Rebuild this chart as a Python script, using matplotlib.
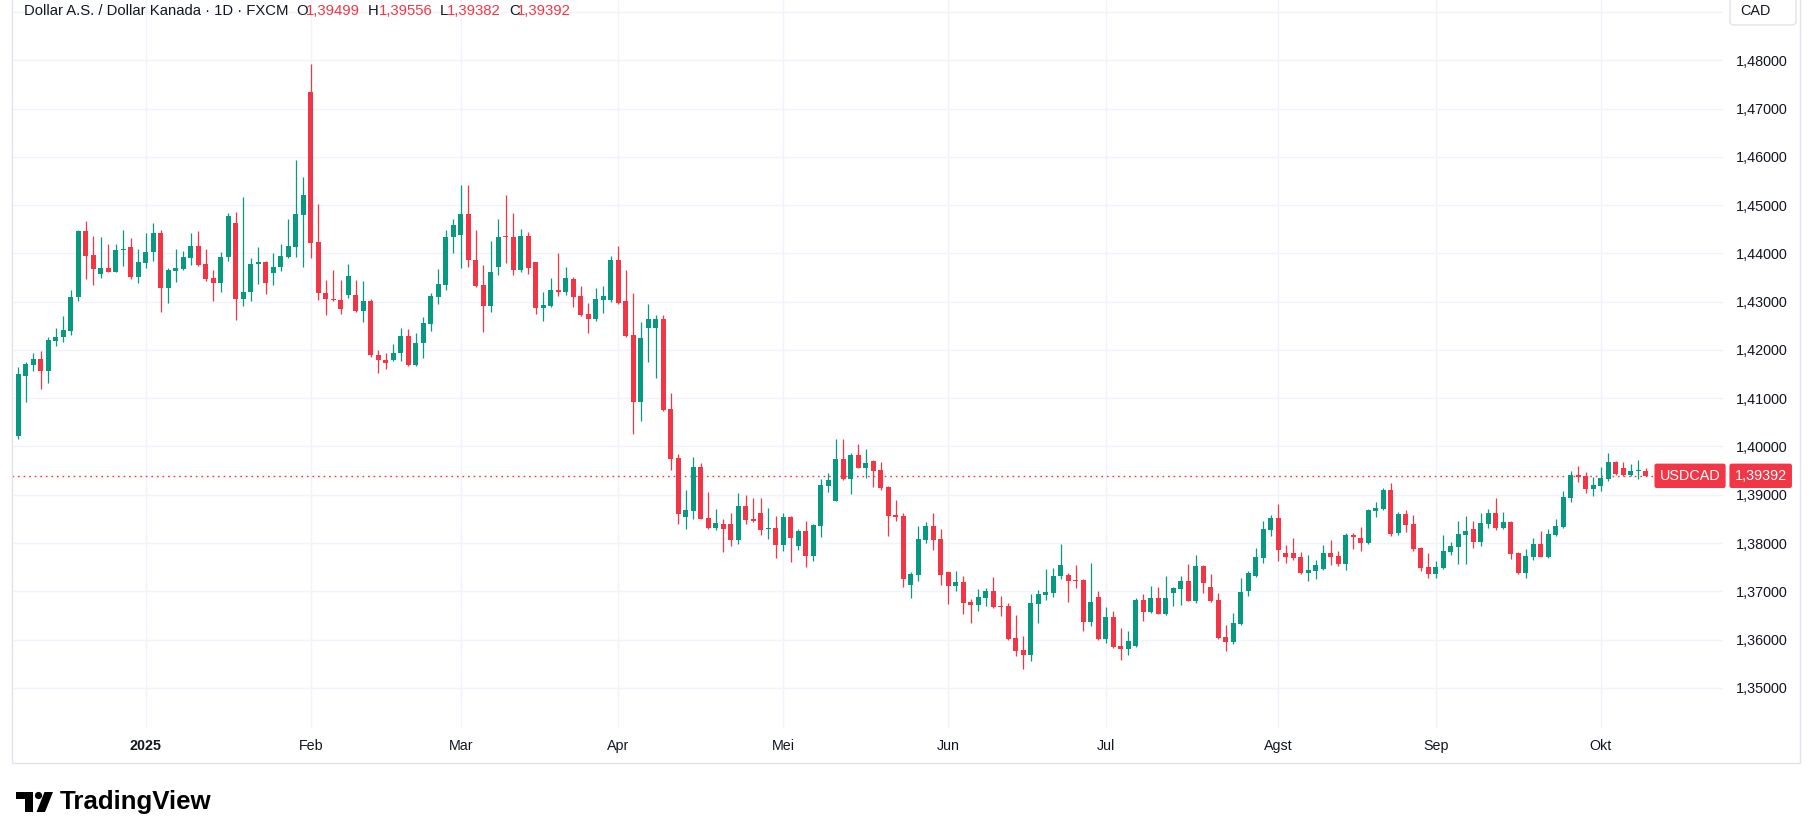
import matplotlib.pyplot as plt
import matplotlib.patches as mpatches
import matplotlib.transforms as mtransforms
import numpy as np
import pandas as pd

plt.rcParams['font.family'] = ['Liberation Sans', 'DejaVu Sans']

# daily bars, 6 Dec 2024 .. 9 Oct 2025 (no bars on 25 Dec and 1 Jan)
dates = pd.bdate_range('2024-12-06', '2025-10-09')
dates = dates[~dates.isin(pd.to_datetime(['2024-12-25', '2025-01-01']))]

opens = [
    1.40225, 1.41469, 1.41697, 1.41814, 1.41572, 1.42194, 1.42277, 1.42402, 1.43086, 1.44468,
    1.43970, 1.43583, 1.43701, 1.43618, 1.44060, 1.44136, 1.43521, 1.43811, 1.44019, 1.44426,
    1.43293, 1.43645, 1.43680, 1.43908, 1.44157, 1.43784, 1.43493, 1.43380, 1.43918, 1.44637,
    1.43048, 1.43193, 1.43773, 1.43829, 1.43587, 1.43711, 1.43932, 1.44139, 1.44802, 1.47351,
    1.44243, 1.43186, 1.43062, 1.43041, 1.43131, 1.43145, 1.42800, 1.43021, 1.41902, 1.41798,
    1.41785, 1.41930, 1.42296, 1.41681, 1.42137, 1.42547, 1.43106, 1.43355, 1.44330, 1.44371,
    1.44820, 1.43867, 1.43348, 1.42920, 1.43708, 1.44343, 1.44343, 1.43666, 1.44364, 1.43825,
    1.42878, 1.42913, 1.43245, 1.43203, 1.43473, 1.43120, 1.42747, 1.42643, 1.43037, 1.43037,
    1.43867, 1.43017, 1.42307, 1.40918, 1.42452, 1.42452, 1.42639, 1.40773, 1.39757, 1.38540,
    1.38665, 1.39570, 1.38513, 1.38305, 1.38388, 1.38388, 1.38064, 1.38762, 1.38492, 1.38616,
    1.38292, 1.38312, 1.37960, 1.38540, 1.37939, 1.38243, 1.37732, 1.38354, 1.39183, 1.38874,
    1.39737, 1.39323, 1.39820, 1.39551, 1.39696, 1.39509, 1.39157, 1.38570, 1.38556, 1.37125,
    1.37332, 1.38058, 1.38348, 1.38079, 1.37395, 1.37104, 1.37187, 1.36773, 1.36710, 1.36856,
    1.37001, 1.36690, 1.36690, 1.36026, 1.35777, 1.35674, 1.36731, 1.36918, 1.36959, 1.37312,
    1.37332, 1.37229, 1.37229, 1.36358, 1.36876, 1.36005, 1.36462, 1.35860, 1.35798, 1.35860,
    1.36814, 1.36565, 1.36856, 1.36524, 1.36959, 1.37042, 1.37208, 1.36793, 1.37519, 1.37084,
    1.36814, 1.36047, 1.35943, 1.36317, 1.37001, 1.37312, 1.37685, 1.38265, 1.38514, 1.37789,
    1.37789, 1.37706, 1.37374, 1.37415, 1.37457, 1.37789, 1.37726, 1.37560, 1.38162, 1.38100,
    1.37996, 1.38659, 1.38701, 1.39095, 1.38203, 1.38597, 1.38390, 1.37892, 1.37498, 1.37353,
    1.37478, 1.37823, 1.37913, 1.38162, 1.38286, 1.38017, 1.38390, 1.38618, 1.38307, 1.38431,
    1.37789, 1.37374, 1.37706, 1.37975, 1.37706, 1.38162, 1.38328, 1.38929, 1.39406, 1.39385,
    1.39115, 1.39178, 1.39323, 1.39675, 1.39551, 1.39406, 1.39489, 1.39499,
]
highs = [
    1.41641, 1.41752, 1.41938, 1.41980, 1.42263, 1.42457, 1.42706, 1.43245, 1.44489, 1.44675,
    1.44364, 1.44343, 1.44198, 1.44198, 1.44489, 1.44323, 1.44095, 1.44426, 1.44634, 1.44489,
    1.43701, 1.44095, 1.44053, 1.44426, 1.44468, 1.44095, 1.43659, 1.44036, 1.44844, 1.44865,
    1.45175, 1.43912, 1.44139, 1.43850, 1.44015, 1.44202, 1.44720, 1.45942, 1.45590, 1.47931,
    1.45030, 1.43456, 1.43663, 1.43456, 1.43787, 1.43456, 1.43435, 1.43048, 1.42006, 1.41930,
    1.42130, 1.42461, 1.42441, 1.42358, 1.42689, 1.43182, 1.43680, 1.44489, 1.44717, 1.45422,
    1.45422, 1.44489, 1.43763, 1.44261, 1.44717, 1.45214, 1.44841, 1.44509, 1.44447, 1.43830,
    1.43203, 1.43493, 1.44012, 1.43721, 1.43514, 1.43328, 1.42975, 1.43286, 1.43328, 1.43950,
    1.44157, 1.43659, 1.43178, 1.42576, 1.42950, 1.42721, 1.42721, 1.41104, 1.39840, 1.39093,
    1.39778, 1.39653, 1.39052, 1.38699, 1.38492, 1.38616, 1.39031, 1.38990, 1.38927, 1.38927,
    1.38720, 1.38561, 1.38616, 1.38561, 1.38292, 1.38451, 1.38388, 1.39321, 1.39446, 1.40152,
    1.40152, 1.39862, 1.40048, 1.39945, 1.39717, 1.39675, 1.39178, 1.38887, 1.38618, 1.37395,
    1.38348, 1.38431, 1.38618, 1.38286, 1.37400, 1.37415, 1.37312, 1.36835, 1.37042, 1.37063,
    1.37291, 1.36897, 1.36752, 1.36503, 1.36068, 1.36938, 1.37021, 1.37457, 1.37478, 1.37975,
    1.37374, 1.37540, 1.37249, 1.37581, 1.37001, 1.36669, 1.36586, 1.36234, 1.36171, 1.36856,
    1.36938, 1.37104, 1.37084, 1.37312, 1.37084, 1.37312, 1.37560, 1.37747, 1.37540, 1.37353,
    1.36959, 1.36296, 1.36545, 1.37270, 1.37415, 1.37892, 1.38452, 1.38576, 1.38804, 1.37954,
    1.38100, 1.37809, 1.37747, 1.37643, 1.37954, 1.38058, 1.37830, 1.38203, 1.38203, 1.38328,
    1.38701, 1.38846, 1.39136, 1.39240, 1.38639, 1.38680, 1.38576, 1.37913, 1.37789, 1.37623,
    1.38162, 1.38017, 1.38452, 1.38556, 1.38452, 1.38618, 1.38701, 1.38929, 1.38639, 1.38452,
    1.37809, 1.37871, 1.38100, 1.38245, 1.38286, 1.38493, 1.39074, 1.39489, 1.39592, 1.39468,
    1.39364, 1.39572, 1.39862, 1.39696, 1.39675, 1.39634, 1.39717, 1.39556,
]
lows = [
    1.40163, 1.40930, 1.41572, 1.41199, 1.41323, 1.42091, 1.42173, 1.42319, 1.43023, 1.43459,
    1.43348, 1.43493, 1.43610, 1.43610, 1.43742, 1.43459, 1.43376, 1.43701, 1.43832, 1.42795,
    1.42982, 1.43397, 1.43659, 1.43763, 1.43742, 1.43432, 1.43023, 1.43193, 1.43836, 1.42613,
    1.42903, 1.43007, 1.43359, 1.43152, 1.43338, 1.43628, 1.43898, 1.43932, 1.43711, 1.43898,
    1.43028, 1.42717, 1.43020, 1.42738, 1.43069, 1.42795, 1.42572, 1.41847, 1.41515, 1.41598,
    1.41764, 1.41764, 1.41675, 1.41675, 1.41826, 1.42402, 1.42941, 1.43231, 1.43998, 1.43687,
    1.43708, 1.43307, 1.42374, 1.42795, 1.43542, 1.43791, 1.43542, 1.43604, 1.43563, 1.42754,
    1.42609, 1.42892, 1.43120, 1.43141, 1.42892, 1.42706, 1.42353, 1.42602, 1.42768, 1.42996,
    1.42961, 1.42277, 1.40261, 1.40524, 1.41747, 1.41415, 1.40731, 1.39515, 1.38395, 1.38292,
    1.38499, 1.38490, 1.38292, 1.38271, 1.37815, 1.37939, 1.37981, 1.38395, 1.38437, 1.38167,
    1.38085, 1.37690, 1.37835, 1.37607, 1.37856, 1.37504, 1.37628, 1.38126, 1.39059, 1.38870,
    1.39302, 1.39012, 1.39545, 1.39343, 1.39157, 1.39095, 1.38141, 1.38459, 1.37091, 1.36863,
    1.37208, 1.37996, 1.37851, 1.37125, 1.36731, 1.37001, 1.36524, 1.36337, 1.36586, 1.36690,
    1.36660, 1.36482, 1.35985, 1.35653, 1.35390, 1.35549, 1.36337, 1.36814, 1.36876, 1.37249,
    1.36773, 1.37063, 1.36171, 1.36275, 1.35985, 1.35923, 1.35835, 1.35570, 1.35674, 1.35855,
    1.36379, 1.36545, 1.36520, 1.36503, 1.36690, 1.36710, 1.36790, 1.36752, 1.36959, 1.36773,
    1.36020, 1.35757, 1.35902, 1.36296, 1.36897, 1.37291, 1.37581, 1.38141, 1.37623, 1.37581,
    1.37643, 1.37353, 1.37208, 1.37249, 1.37450, 1.37540, 1.37519, 1.37436, 1.37871, 1.37830,
    1.37975, 1.38535, 1.38680, 1.38141, 1.38162, 1.38224, 1.37830, 1.37415, 1.37270, 1.37270,
    1.37470, 1.37747, 1.37560, 1.37560, 1.37892, 1.37934, 1.38307, 1.38265, 1.38286, 1.37664,
    1.37353, 1.37270, 1.37643, 1.37700, 1.37685, 1.38141, 1.38307, 1.38846, 1.39261, 1.39032,
    1.38970, 1.39074, 1.39281, 1.39406, 1.39385, 1.39385, 1.39323, 1.39382,
]
closes = [
    1.41503, 1.41710, 1.41814, 1.41572, 1.42208, 1.42270, 1.42415, 1.43100, 1.44468, 1.43950,
    1.43680, 1.43701, 1.43618, 1.44074, 1.44095, 1.43521, 1.43825, 1.44032, 1.44426, 1.43293,
    1.43659, 1.43701, 1.43929, 1.44157, 1.43763, 1.43473, 1.43376, 1.43932, 1.44782, 1.43048,
    1.43207, 1.43787, 1.43829, 1.43380, 1.43725, 1.43953, 1.44160, 1.44823, 1.45217, 1.44222,
    1.43173, 1.43048, 1.43028, 1.42841, 1.43539, 1.42800, 1.43021, 1.41888, 1.41785, 1.41722,
    1.41930, 1.42296, 1.41681, 1.42151, 1.42565, 1.43120, 1.43369, 1.44343, 1.44592, 1.44820,
    1.43853, 1.43328, 1.42920, 1.43618, 1.44343, 1.44330, 1.43666, 1.44364, 1.43687, 1.42878,
    1.42934, 1.43245, 1.43203, 1.43493, 1.43100, 1.42726, 1.42643, 1.43058, 1.43120, 1.43867,
    1.42982, 1.42298, 1.40918, 1.42245, 1.42639, 1.42639, 1.40752, 1.39743, 1.38603, 1.38679,
    1.39570, 1.38499, 1.38305, 1.38409, 1.38292, 1.38064, 1.38762, 1.38478, 1.38451, 1.38271,
    1.38312, 1.37960, 1.38540, 1.38105, 1.38243, 1.37732, 1.38368, 1.39197, 1.39301, 1.39737,
    1.39323, 1.39820, 1.39551, 1.39654, 1.39489, 1.39136, 1.38556, 1.38542, 1.37249, 1.37353,
    1.38079, 1.38348, 1.38058, 1.37332, 1.37104, 1.37187, 1.36752, 1.36710, 1.36876, 1.37001,
    1.36669, 1.36669, 1.36005, 1.35757, 1.35674, 1.36752, 1.36938, 1.36980, 1.37312, 1.37540,
    1.37208, 1.37208, 1.36358, 1.36773, 1.36005, 1.36462, 1.35840, 1.35798, 1.35964, 1.36814,
    1.36565, 1.36856, 1.36524, 1.36856, 1.37063, 1.37208, 1.36793, 1.37519, 1.37167, 1.36793,
    1.36026, 1.35943, 1.36337, 1.36980, 1.37374, 1.37706, 1.38286, 1.38514, 1.37851, 1.37706,
    1.37685, 1.37374, 1.37436, 1.37540, 1.37789, 1.37706, 1.37560, 1.38162, 1.38120, 1.37996,
    1.38680, 1.38721, 1.39095, 1.38182, 1.38597, 1.38369, 1.37871, 1.37478, 1.37353, 1.37498,
    1.37830, 1.37934, 1.38182, 1.38245, 1.38017, 1.38410, 1.38618, 1.38307, 1.38431, 1.37768,
    1.37374, 1.37726, 1.37975, 1.37706, 1.38182, 1.38348, 1.38950, 1.39406, 1.39364, 1.39115,
    1.39198, 1.39343, 1.39675, 1.39426, 1.39406, 1.39489, 1.39509, 1.39392,
]

price_ticks = [1.35, 1.36, 1.37, 1.38, 1.39, 1.40, 1.41, 1.42, 1.43, 1.44, 1.45, 1.46, 1.47, 1.48, 1.49]
month_names = {1: '2025', 2: 'Feb', 3: 'Mar', 4: 'Apr', 5: 'Mei', 6: 'Jun',
               7: 'Jul', 8: 'Agst', 9: 'Sep', 10: 'Okt'}

GREEN = '#089981'
RED = '#f23645'
TEXT = '#131722'
GRID = '#f0f3fa'
BORDER = '#e0e3eb'

W, H = 1813, 838
fig = plt.figure(figsize=(W / 100, H / 100), dpi=100)
fig.patch.set_facecolor('white')

# plot area in pixels: x 12..1723, y 0..728
ax = fig.add_axes([12 / W, (H - 728) / H, (1723 - 12) / W, 728 / H])
ax.set_facecolor('white')

o = np.array(opens)
h = np.array(highs)
l = np.array(lows)
c = np.array(closes)
x = np.arange(len(dates))
up = c >= o
cols = np.where(up, GREEN, RED)

ax.vlines(x, l, h, colors=cols, linewidth=0.9, zorder=3)
body_lo = np.minimum(o, c)
body_h = np.maximum(np.abs(c - o), 0.00022)
ax.bar(x, body_h, bottom=body_lo, width=0.66, color=cols, linewidth=0, zorder=4)

# month ticks at the first bar of each month (the first bar itself is mid-December)
s = pd.Series(x, index=dates)
firsts = s.groupby([dates.year, dates.month]).first()
tick_pos, tick_lab = [], []
for (yr, mo), idx in firsts.items():
    if idx == 0:
        continue
    tick_pos.append(idx)
    tick_lab.append(month_names[mo])

ax.set_xlim(-0.84, 227.3)
ax.set_ylim(1.341674, 1.492492)
ax.set_xticks(tick_pos, tick_lab)
# the top line (1,49) sits under the currency box, so it gets no label
ylabels = [f'{p:.5f}'.replace('.', ',') if p < 1.485 else '' for p in price_ticks]
ax.set_yticks(price_ticks, ylabels)
ax.yaxis.tick_right()
ax.tick_params(axis='x', length=0, pad=8, labelsize=10.3, labelcolor=TEXT)
ax.tick_params(axis='y', length=0, pad=9, labelsize=10.4, labelcolor=TEXT)
for lab in ax.get_xticklabels():
    if lab.get_text() == '2025':
        lab.set_fontweight('bold')
for lab in ax.get_yticklabels():
    lab.set_horizontalalignment('left')
ax.grid(True, color=GRID, linewidth=1.0, zorder=0)
ax.set_axisbelow(True)
for sp in ax.spines.values():
    sp.set_visible(False)

# last price line and labels
last = closes[-1]
ax.axhline(last, xmin=0, xmax=(1658 - 12) / 1711, color=RED, linewidth=1.0,
           linestyle=(0, (1.2, 2.8)), zorder=2)
tr = mtransforms.blended_transform_factory(ax.transAxes, ax.transData)
ax.text(0.9985, last, 'USDCAD', transform=tr, ha='right', va='center', color='white',
        fontsize=10.4, zorder=6, clip_on=False,
        bbox=dict(boxstyle='round,pad=0.36,rounding_size=0.15', fc=RED, ec='none'))
ax.text(1.0068, last, f'{last:.5f}'.replace('.', ','), transform=tr, ha='left', va='center',
        color='white', fontsize=10.4, zorder=6, clip_on=False,
        bbox=dict(boxstyle='round,pad=0.36,rounding_size=0.15', fc=RED, ec='none'))

# overlay in pixel coordinates for frame, header and logo
ov = fig.add_axes([0, 0, 1, 1], zorder=10)
ov.set_xlim(0, W)
ov.set_ylim(H, 0)
ov.axis('off')
ov.patch.set_visible(False)

ov.add_patch(mpatches.Rectangle((12, -5), 1788, 768, fill=False, ec=BORDER, lw=1.0))
ov.add_patch(mpatches.FancyBboxPatch((1730, -8), 66, 33,
                                     boxstyle='round,pad=0,rounding_size=4',
                                     fc='white', ec=BORDER, lw=1.0))
ov.text(1740, 11, 'CAD', fontsize=10.4, color=TEXT, va='center', ha='left')

ov.text(24, 11, 'Dollar A.S. / Dollar Kanada · 1D · FXCM', fontsize=10.7, color=TEXT,
        va='center', ha='left')
hdr_vals = [('O', opens[-1], 296, 306), ('H', highs[-1], 368, 379),
            ('L', lows[-1], 440, 447), ('C', closes[-1], 509, 517)]
for key, val, kx, vx in hdr_vals:
    ov.text(kx, 11, key, fontsize=10.7, color=TEXT, va='center', ha='left')
    ov.text(vx, 11, f'{val:.5f}'.replace('.', ','), fontsize=10.7, color=RED,
            va='center', ha='left')

# TradingView logo
ov.add_patch(mpatches.Rectangle((15.5, 792), 17.5, 7, fc='black', ec='none'))
ov.add_patch(mpatches.Rectangle((24.5, 792), 8.5, 20, fc='black', ec='none'))
ov.add_patch(mpatches.Circle((38.5, 795.5), 3.6, fc='black', ec='none'))
ov.add_patch(mpatches.Polygon([(44.5, 792), (53, 792), (45, 812), (36.5, 812)],
                              closed=True, fc='black', ec='none'))
ov.text(60, 802, 'TradingView', fontsize=18.6, fontweight='bold', color='black',
        va='center', ha='left')

fig.savefig('out.png', dpi=100, facecolor='white')
